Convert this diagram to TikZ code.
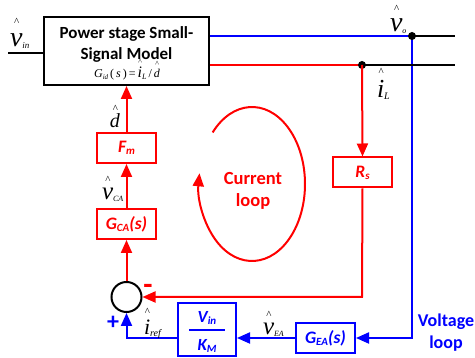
\documentclass[tikz,border=0pt]{standalone}
\usepackage{fontspec}
\setmainfont{Carlito}
\newfontfamily\tms{Liberation Serif}
\usetikzlibrary{arrows.meta,calc}
\definecolor{rd}{RGB}{255,0,0}
\definecolor{bl}{RGB}{0,0,255}
\newsavebox\hbx
\newcommand\caretfont{\fontsize{11}{11}\selectfont}
\newcommand\hatted[2]{\sbox\hbx{#2}\makebox[0pt][l]{\makebox[\wd\hbx]{\raisebox{#1}{\caretfont\textasciicircum}}}\usebox\hbx}
\newcommand\lsub[2]{\raisebox{-2pt}{\fontsize{#1}{#1}\selectfont #2}}
\begin{document}
\begin{tikzpicture}[x=1pt,y=-1pt,line width=2pt,
  box/.style={draw,rectangle,minimum width=59pt,minimum height=30pt,inner sep=0pt,font=\fontsize{17.5}{17.5}\selectfont\bfseries\itshape},
  arr/.style={-{Triangle[length=13pt,width=11pt]}},
  lab/.style={inner sep=0pt,anchor=base west},
  dot/.style={circle,fill,inner sep=0pt,minimum size=8pt},
  bigtxt/.style={font=\fontsize{18}{22}\selectfont\bfseries,align=center,inner sep=0pt}]
\useasboundingbox (0,0) rectangle (475,358);
% power stage
\node[draw,minimum width=165pt,minimum height=68pt,inner sep=0pt] (ps) at (126.5,51) {};
\node[font=\fontsize{17}{21}\selectfont\bfseries,align=center,inner sep=0pt] (pst) at (126.5,44) {Power stage Small-\\Signal Model};
\node[inner sep=0pt,anchor=base,font=\tms\fontsize{12}{12}\selectfont] (gid) at (127,78)
  {\renewcommand\caretfont{\fontsize{8}{8}\selectfont}\itshape G\lsub{7}{id}\upshape\,(\,\itshape s\upshape\,)\,=\,{\fontsize{16}{16}\selectfont\itshape\hatted{13pt}{i}}\lsub{8}{\itshape L}\,/\,{\itshape\hatted{11pt}{d}}};
% coordinates
\coordinate (vinL) at (8,53);
\coordinate (voD) at (412,36);
\coordinate (voE) at (455,36);
\coordinate (iLD) at (362,65);
\coordinate (iLE) at (455,65);
\coordinate (vcorner) at (412,338);
\coordinate (rcorner) at (362,297);
\coordinate (ec) at (252,184);
% blocks
\node[box,rd] (Rs) at (362.5,172.5) {R\lsub{11}{s}};
\node[box,rd] (Fm) at (126.5,148) {F\lsub{11}{m}};
\node[box,rd] (GCA) at (126.5,224) {G\lsub{11}{CA}(s)};
\node[box,bl] (GEA) at (325.5,338) {G\lsub{11}{EA}(s)};
\node[box,bl,minimum width=58pt,minimum height=53pt] (VK) at (207,329.5) {};
\node[bl,inner sep=0pt,font=\fontsize{17}{17}\selectfont\bfseries\itshape] (vkn) at (207,318) {V\lsub{11}{in}};
\node[bl,inner sep=0pt,font=\fontsize{17}{17}\selectfont\bfseries\itshape] (vkd) at (207,346) {K\lsub{11}{M}};
\draw[bl] ($(VK.center)+(-18,0.5)$) -- ++(36,0);
\node[draw,circle,minimum size=30pt,inner sep=0pt] (sum) at (126.5,297) {};
% lines
\draw (vinL) -- (vinL -| ps.west);
\draw[bl] (voD -| ps.east) -- (voD);
\draw[bl,arr] (voD) -- (vcorner) -- (GEA.east);
\draw[rd] (iLD -| ps.east) -- (iLD);
\draw (voD) -- (voE);
\draw (iLD) -- (iLE);
\node[dot] (d1) at (voD) {};
\node[dot] (d2) at (iLD) {};
\draw[rd,arr] (iLD) -- (Rs.north);
\draw[rd,arr] (Rs.south) -- (rcorner) -- (sum.east);
\draw[rd,arr] (sum.north) -- (GCA.south);
\draw[rd,arr] (GCA.north) -- (Fm.south);
\draw[rd,arr] (Fm.north) -- (ps.south);
\draw[bl,arr] (GEA.west) -- (GEA.west -| VK.east);
\draw[bl,arr] (VK.west |- GEA.west) -- (sum.south |- GEA.west) -- (sum.south);
% current loop
\draw[rd,arr] ([shift={(138:53pt and 77pt)}]ec) arc[start angle=138,end angle=-188,x radius=53pt,y radius=77pt];
\node[rd,bigtxt,font=\fontsize{18.5}{22}\selectfont\bfseries] (cl) at (253,191) {Current\\loop};
\node[bl,bigtxt] (vl) at (446,333) {Voltage\\loop};
\node[bl,inner sep=0pt,font=\fontsize{24}{24}\selectfont\bfseries] (plus) at (113,323) {+};
\node[rd,inner sep=0pt,font=\fontsize{30}{30}\selectfont\bfseries] (minus) at (148,289) {-};
% signal labels
\node[lab,font=\tms\itshape\fontsize{28}{28}\selectfont] (lvin) at (9,47) {\hatted{21.5pt}{v}\lsub{9}{in}};
\node[lab,font=\tms\itshape\fontsize{28}{28}\selectfont] (lvo) at (389,32) {\hatted{19.5pt}{v}\lsub{8}{o}};
\node[lab,font=\tms\itshape\fontsize{26}{26}\selectfont] (liL) at (376,98) {\hatted{22.5pt}{i}\lsub{10}{L}};
\node[lab,font=\tms\itshape\fontsize{20}{20}\selectfont] (ld) at (109,128) {\hatted{15.5pt}{d}};
\node[lab,font=\tms\itshape\fontsize{25}{25}\selectfont] (lvca) at (101,200) {\hatted{16.5pt}{v}\lsub{8}{CA}};
\node[lab,font=\tms\itshape\fontsize{25}{25}\selectfont] (lvea) at (262,335) {\hatted{16.5pt}{v}\lsub{8}{EA}};
\node[lab,font=\tms\itshape\fontsize{22}{22}\selectfont] (liref) at (143,335) {\hatted{19.5pt}{i}\lsub{10}{ref}};
\end{tikzpicture}
\end{document}
